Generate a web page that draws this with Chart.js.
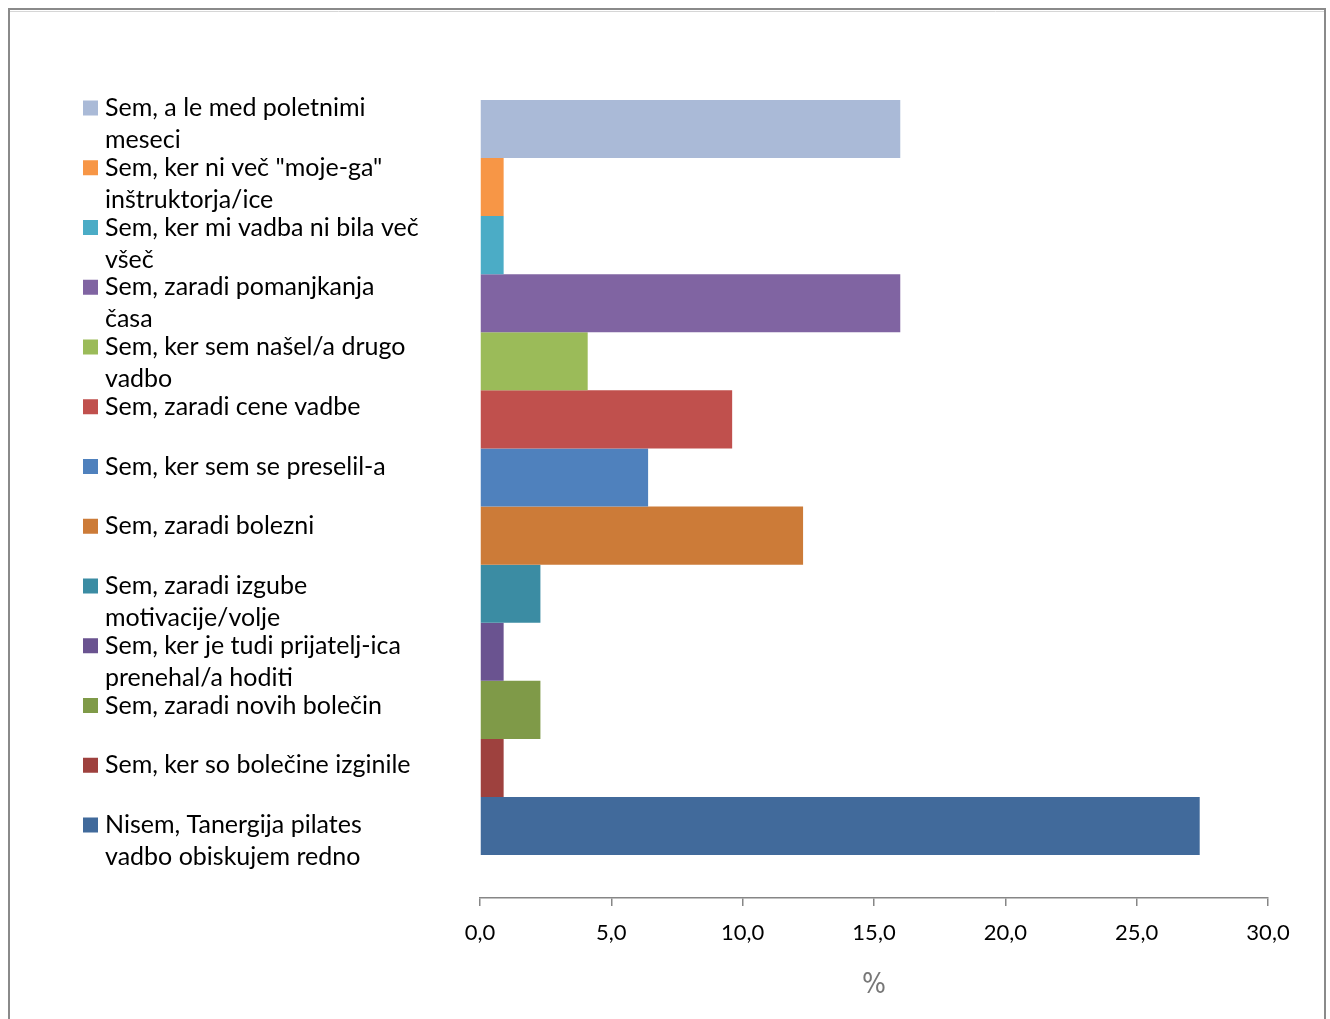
<!DOCTYPE html>
<html>
<head>
<meta charset="utf-8">
<script src="https://cdn.jsdelivr.net/npm/chart.js@4/dist/chart.umd.min.js"></script>
<style>
  html, body { margin: 0; padding: 0; background: #fff; }
  #wrap { width: 1330px; height: 1019px; position: relative; }
</style>
</head>
<body>
<div id="wrap"><canvas id="reasonsChart"></canvas></div>
<script>
// legend text (each entry split the way the original wraps it)
const reasonLines = [
  ["Sem, a le med poletnimi", "meseci"],
  ["Sem, ker ni več \"moje-ga\"", "inštruktorja/ice"],
  ["Sem, ker mi vadba ni bila več", "všeč"],
  ["Sem, zaradi pomanjkanja", "časa"],
  ["Sem, ker sem našel/a drugo", "vadbo"],
  ["Sem, zaradi cene vadbe"],
  ["Sem, ker sem se preselil-a"],
  ["Sem, zaradi bolezni"],
  ["Sem, zaradi izgube", "motivacije/volje"],
  ["Sem, ker je tudi prijatelj-ica", "prenehal/a hoditi"],
  ["Sem, zaradi novih bolečin"],
  ["Sem, ker so bolečine izginile"],
  ["Nisem, Tanergija pilates", "vadbo obiskujem redno"],
];

// percent of answers
const reasonValues = [16.0, 0.9, 0.9, 16.0, 4.1, 9.6, 6.4, 12.3, 2.3, 0.9, 2.3, 0.9, 27.4];

const reasonColors = [
  "#AABAD7", "#F79646", "#4BACC6", "#8064A2", "#9BBB59", "#C0504D", "#4F81BD",
  "#CC7B38", "#3B8CA3", "#6A5390", "#7F9A48", "#9E413E", "#416A9B",
];

const xTicks = [0, 5, 10, 15, 20, 25, 30];

const legendFont = "25px Lato, 'Open Sans', sans-serif";

// one series per answer, all in a single category (like the Excel original)
const datasets = reasonValues.map((v, i) => {
  return {
    label: reasonLines[i].join(" "),
    data: [v],
    backgroundColor: reasonColors[i],
    borderWidth: 0,
    categoryPercentage: 0.898,
    barPercentage: 1.0,
  };
});

// frame around the whole chart
const framePlugin = {
  id: "frame",
  beforeDraw(chart) {
    const ctx = chart.ctx;
    ctx.save();
    ctx.strokeStyle = "#8a8a8a";
    ctx.lineWidth = 2;
    ctx.strokeRect(9, 9, 1316, 1100);
    ctx.strokeStyle = "#d6d6d6";
    ctx.lineWidth = 1;
    ctx.beginPath();
    ctx.moveTo(10, 11.5);
    ctx.lineTo(1324, 11.5);
    ctx.stroke();
    ctx.restore();
  },
};

// legend on the left, with wrapped lines
const sideLegend = {
  id: "sideLegend",
  afterDraw(chart) {
    const ctx = chart.ctx;
    ctx.save();
    ctx.font = legendFont;
    ctx.textBaseline = "middle";
    ctx.fillStyle = "#000";
    const step = 59.75;
    const lineH = 32;
    chart.data.datasets.forEach((ds, i) => {
      const y0 = 108 + step * i;
      ctx.fillStyle = ds.backgroundColor;
      ctx.fillRect(83, y0 - 7.5, 15, 15);
      ctx.fillStyle = "#000";
      reasonLines[i].forEach((line, j) => {
        ctx.fillText(line, 105, y0 + j * lineH);
      });
    });
    ctx.restore();
  },
};

const ctx = document.getElementById("reasonsChart").getContext("2d");

const reasonsChart = new Chart(ctx, {
  type: "bar",
  data: {
    labels: [""],
    datasets: datasets,
  },
  options: {
    indexAxis: "y",
    responsive: true,
    maintainAspectRatio: false,
    animation: false,
    layout: {
      padding: { left: 480, right: 62, top: 57, bottom: 0 },
    },
    plugins: {
      legend: { display: false },
      tooltip: { enabled: false },
    },
    scales: {
      y: {
        display: false,
      },
      x: {
        type: "linear",
        min: 0,
        max: 30,
        afterBuildTicks(scale) {
          scale.ticks = xTicks.map((v) => ({ value: v }));
        },
        afterFit(scale) {
          scale.height = 121;
        },
        border: { display: true, color: "#868686", width: 1.5 },
        grid: {
          drawOnChartArea: false,
          drawTicks: true,
          tickLength: 8,
          color: "#868686",
          lineWidth: 1.5,
        },
        ticks: {
          padding: 14,
          color: "#000",
          font: { family: "Lato, 'Open Sans', sans-serif", size: 22 },
          callback: (v) => v.toFixed(1).replace(".", ","),
        },
        title: {
          display: true,
          text: "%",
          color: "#777",
          font: { family: "'DejaVu Sans Condensed', sans-serif", size: 28 },
          padding: { top: 0, bottom: 16 },
        },
      },
    },
  },
  plugins: [framePlugin, sideLegend],
});
</script>
</body>
</html>
